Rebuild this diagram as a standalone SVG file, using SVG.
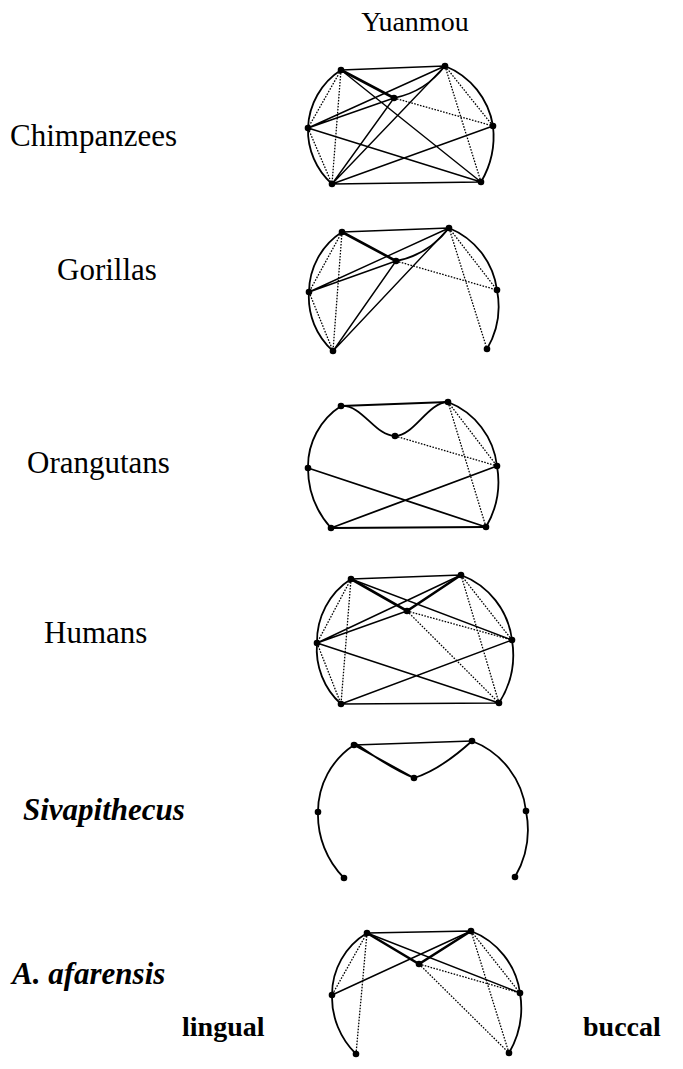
<svg xmlns="http://www.w3.org/2000/svg" width="683" height="1069" viewBox="0 0 683 1069">
<style>
.lbl{font-family:"Liberation Serif","Times New Roman",serif;font-size:31px;fill:#000}
.ttl{font-family:"Liberation Serif","Times New Roman",serif;font-size:28px;fill:#000}
.bi{font-weight:bold;font-style:italic}
.b{font-weight:bold;font-size:28px}
.s{stroke:#000;stroke-width:1.4;fill:none}
.t{stroke:#000;stroke-width:2.6;fill:none;stroke-linecap:round}
.o{stroke:#000;stroke-width:1.8;fill:none}
.d{stroke:#000;stroke-width:1.3;fill:none;stroke-dasharray:1.6 1.4}
.n{fill:#000}
</style>
<rect width="683" height="1069" fill="#fff"/>
<text class="ttl" x="415" y="31" text-anchor="middle">Yuanmou</text>
<text class="lbl" x="10" y="146">Chimpanzees</text>
<text class="lbl" x="57" y="280">Gorillas</text>
<text class="lbl" x="27" y="473">Orangutans</text>
<text class="lbl" x="44" y="643">Humans</text>
<text class="lbl bi" x="23" y="820">Sivapithecus</text>
<text class="lbl bi" x="12" y="984">A. afarensis</text>
<text class="lbl b" x="182" y="1036">lingual</text>
<text class="lbl b" x="583" y="1036">buccal</text>

<!-- Chimpanzees -->
<g id="chimp">
<g id="chimp-edges">
<path class="o" d="M341,70 A72,72 0 0 0 308,128 A72,72 0 0 0 332,184"/>
<path class="o" d="M445,66 A78,78 0 0 1 493,126 A90,90 0 0 1 481,182"/>
<path class="s" d="M341,70 L445,66 M332,184 L481,182 M341,70 L481,182 M445,66 L332,184 M308,128 L445,66 M308,128 L394,98 M394,98 L332,184 M308,128 L481,182 M332,184 L493,126"/>
<path class="t" d="M341,70 L394,98"/>
<path class="s" d="M394,98 Q425,92 445,66"/>
<path class="d" d="M341,70 L308,128 M341,70 L332,184 M308,128 L332,184 M445,66 L493,126 M445,66 L481,182 M394,98 L493,126"/>
</g>
<g id="chimp-A"><circle class="n" cx="341" cy="70" r="3.3"/></g>
<g id="chimp-B"><circle class="n" cx="445" cy="66" r="3.3"/></g>
<g id="chimp-C"><circle class="n" cx="394" cy="98" r="3.3"/></g>
<g id="chimp-D"><circle class="n" cx="308" cy="128" r="3.3"/></g>
<g id="chimp-E"><circle class="n" cx="493" cy="126" r="3.3"/></g>
<g id="chimp-F"><circle class="n" cx="332" cy="184" r="3.3"/></g>
<g id="chimp-G"><circle class="n" cx="481" cy="182" r="3.3"/></g>
</g>

<!-- Gorillas -->
<g id="gorilla">
<g id="gorilla-edges">
<path class="o" d="M342,232 A72,72 0 0 0 309,292 A72,72 0 0 0 333,351"/>
<path class="o" d="M449,228 A78,78 0 0 1 497,290 A85,85 0 0 1 487,349"/>
<path class="s" d="M342,232 L449,228 M309,292 L449,228 M309,292 L396,261 M333,351 L396,261 M333,351 L449,228"/>
<path class="t" d="M342,232 L396,261"/>
<path class="o" d="M396,261 Q428,255 449,228"/>
<path class="d" d="M342,232 L309,292 M342,232 L333,351 M309,292 L333,351 M449,228 L497,290 M449,228 L487,349 M396,261 L497,290"/>
</g>
<g id="gorilla-A"><circle class="n" cx="342" cy="232" r="3.3"/></g>
<g id="gorilla-B"><circle class="n" cx="449" cy="228" r="3.3"/></g>
<g id="gorilla-C"><circle class="n" cx="396" cy="261" r="3.3"/></g>
<g id="gorilla-D"><circle class="n" cx="309" cy="292" r="3.3"/></g>
<g id="gorilla-E"><circle class="n" cx="497" cy="290" r="3.3"/></g>
<g id="gorilla-F"><circle class="n" cx="333" cy="351" r="3.3"/></g>
<g id="gorilla-G"><circle class="n" cx="487" cy="349" r="3.3"/></g>
</g>

<!-- Orangutans -->
<g id="orangutan">
<g id="orangutan-edges">
<path class="o" d="M341,406 A72,72 0 0 0 308,468 A90,90 0 0 0 331,528"/>
<path class="o" d="M448,402 A78,78 0 0 1 497,466 A90,90 0 0 1 486,527"/>
<path class="o" d="M341,406 L448,402 M331,528 L486,527 M308,468 L486,527 M331,528 L497,466"/>
<path class="o" d="M341,406 C362,404 375,436 395,436 C414,436 428,402 448,402"/>
<path class="d" d="M395,436 L497,466 M448,402 L497,466 M448,402 L486,527"/>
</g>
<g id="orangutan-A"><circle class="n" cx="341" cy="406" r="3.3"/></g>
<g id="orangutan-B"><circle class="n" cx="448" cy="402" r="3.3"/></g>
<g id="orangutan-C"><circle class="n" cx="395" cy="436" r="3.3"/></g>
<g id="orangutan-D"><circle class="n" cx="308" cy="468" r="3.3"/></g>
<g id="orangutan-E"><circle class="n" cx="497" cy="466" r="3.3"/></g>
<g id="orangutan-F"><circle class="n" cx="331" cy="528" r="3.3"/></g>
<g id="orangutan-G"><circle class="n" cx="486" cy="527" r="3.3"/></g>
</g>

<!-- Humans -->
<g id="human">
<g id="human-edges">
<path class="o" d="M351,579 A74,74 0 0 0 317,643 A74,74 0 0 0 341,704"/>
<path class="o" d="M461,575 A80,80 0 0 1 512,640 A90,90 0 0 1 499,703"/>
<path class="s" d="M351,579 L461,575 M341,704 L499,703 M351,579 L512,640 M317,643 L461,575 M317,643 L407,611 M317,643 L499,703 M341,704 L512,640"/>
<path class="t" d="M351,579 L407,611 L461,575"/>
<path class="d" d="M351,579 L317,643 M351,579 L341,704 M317,643 L341,704 M461,575 L512,640 M461,575 L499,703 M407,611 L512,640 M407,611 L499,703"/>
</g>
<g id="human-A"><circle class="n" cx="351" cy="579" r="3.3"/></g>
<g id="human-B"><circle class="n" cx="461" cy="575" r="3.3"/></g>
<g id="human-C"><circle class="n" cx="407" cy="611" r="3.3"/></g>
<g id="human-D"><circle class="n" cx="317" cy="643" r="3.3"/></g>
<g id="human-E"><circle class="n" cx="512" cy="640" r="3.3"/></g>
<g id="human-F"><circle class="n" cx="341" cy="704" r="3.3"/></g>
<g id="human-G"><circle class="n" cx="499" cy="703" r="3.3"/></g>
</g>

<!-- Sivapithecus -->
<g id="sivapithecus">
<g id="sivapithecus-edges">
<path class="o" d="M354,745 A80,80 0 0 0 318,812 A90,90 0 0 0 344,878"/>
<path class="o" d="M472,741 A85,85 0 0 1 526,811 A95,95 0 0 1 515,877"/>
<path class="s" d="M354,745 L472,741"/>
<path class="o" d="M354,745 L414,778 M355,743 Q390,768 414,778"/>
<path class="o" d="M414,778 Q440,770 472,741"/>
</g>
<g id="sivapithecus-A"><circle class="n" cx="354" cy="745" r="3.3"/></g>
<g id="sivapithecus-B"><circle class="n" cx="472" cy="741" r="3.3"/></g>
<g id="sivapithecus-C"><circle class="n" cx="414" cy="778" r="3.3"/></g>
<g id="sivapithecus-D"><circle class="n" cx="318" cy="812" r="3.3"/></g>
<g id="sivapithecus-E"><circle class="n" cx="526" cy="811" r="3.3"/></g>
<g id="sivapithecus-F"><circle class="n" cx="344" cy="878" r="3.3"/></g>
<g id="sivapithecus-G"><circle class="n" cx="515" cy="877" r="3.3"/></g>
</g>

<!-- A. afarensis -->
<g id="afarensis">
<g id="afarensis-edges">
<path class="o" d="M367,933 A72,72 0 0 0 332,995 A80,80 0 0 0 356,1054"/>
<path class="o" d="M471,931 A78,78 0 0 1 520,993 A90,90 0 0 1 509,1053"/>
<path class="s" d="M367,933 L471,931 M332,995 L471,931 M367,933 L520,993"/>
<path class="t" d="M367,933 L419,964 L471,931"/>
<path class="d" d="M367,933 L332,995 M367,933 L356,1054 M419,964 L520,993 M419,964 L509,1053 M471,931 L520,993 M471,931 L509,1053"/>
</g>
<g id="afarensis-A"><circle class="n" cx="367" cy="933" r="3.3"/></g>
<g id="afarensis-B"><circle class="n" cx="471" cy="931" r="3.3"/></g>
<g id="afarensis-C"><circle class="n" cx="419" cy="964" r="3.3"/></g>
<g id="afarensis-D"><circle class="n" cx="332" cy="995" r="3.3"/></g>
<g id="afarensis-E"><circle class="n" cx="520" cy="993" r="3.3"/></g>
<g id="afarensis-F"><circle class="n" cx="356" cy="1054" r="3.3"/></g>
<g id="afarensis-G"><circle class="n" cx="509" cy="1053" r="3.3"/></g>
</g>
</svg>
